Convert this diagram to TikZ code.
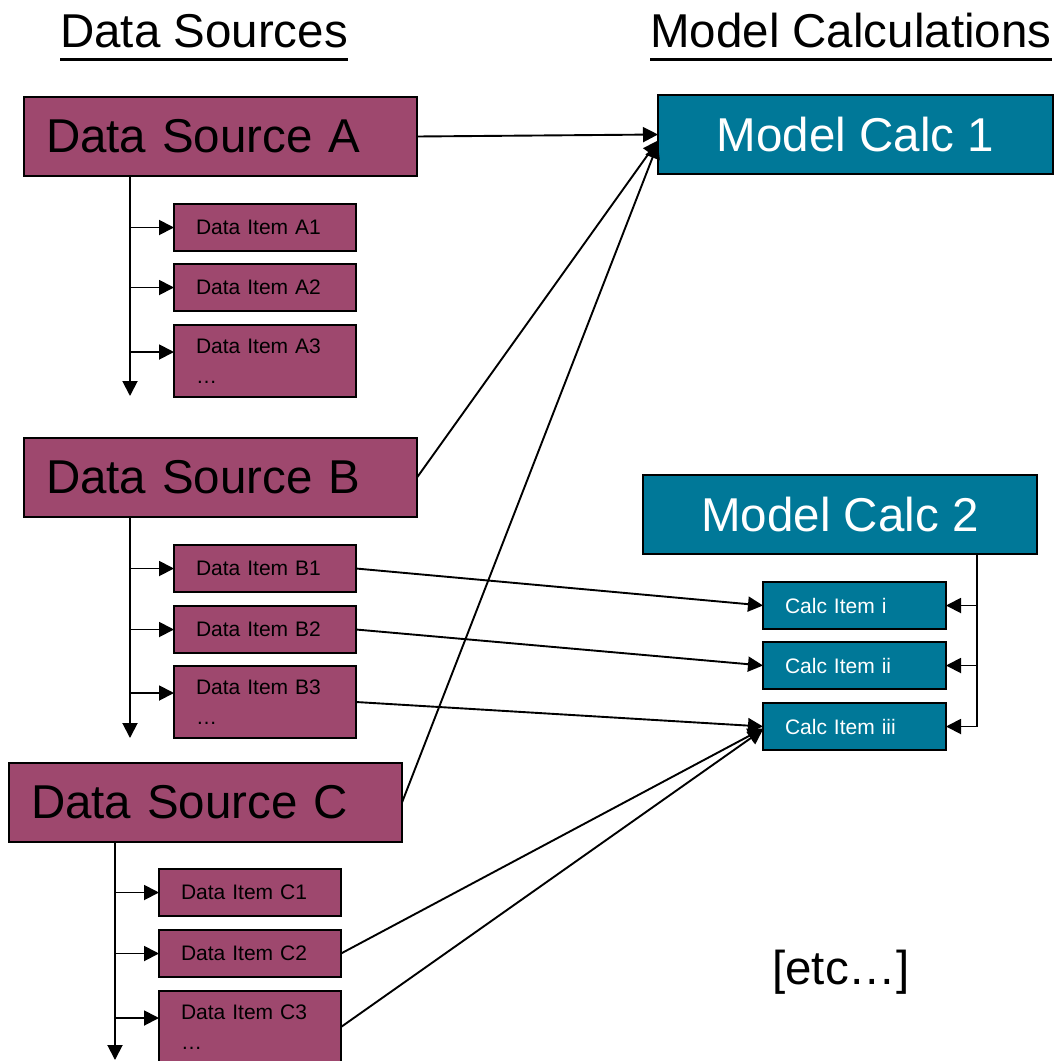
\documentclass[tikz,border=0pt]{standalone}
\usepackage{fontspec}
\setmainfont{Liberation Sans}
\usetikzlibrary{arrows.meta,calc}

\definecolor{srcpurple}{RGB}{158,72,110}
\definecolor{calcteal}{RGB}{0,120,152}

\tikzset{
  head/.style={inner sep=0pt, anchor=base west, font=\fontsize{47.5}{57}\selectfont},
  bigbox/.style={draw=black, line width=1.8pt, anchor=north west, outer sep=0pt,
    minimum height=79pt, font=\fontsize{47.5}{57}\selectfont},
  srcbox/.style={bigbox, fill=srcpurple, text width=349pt, inner xsep=22pt, align=left},
  calcbox/.style={bigbox, fill=calcteal, text=white, minimum width=395pt},
  itembox/.style={draw=black, line width=1.8pt, anchor=north west, outer sep=0pt,
    fill=srcpurple, text width=138pt, inner xsep=22pt, align=left,
    minimum height=47pt, font=\fontsize{21}{30}\selectfont},
  calcitem/.style={itembox, fill=calcteal, text=white, text width=139pt},
  tip/.style={line width=1.9pt, -{Triangle[length=15pt,width=15pt]}},
}

\begin{document}
\begin{tikzpicture}[x=1pt,y=-1pt]
   \useasboundingbox (0,0) rectangle (1055,1061);

   %% Ueberschriften
   \node[head] (hdSrc) at (60,47) {Data Sources};
   \node[head] (hdCalc) at (650,47) {Model Calculations};
   \draw[line width=3pt] ($(hdSrc.base west)+(0,12)$) -- ($(hdSrc.base east)+(0,12)$);
   \draw[line width=3pt] ($(hdCalc.base west)+(0,12)$) -- ($(hdCalc.base east)+(0,12)$);

   %% Quelle A
   \node[srcbox] (srcA) at (24,97) {Data Source A};
   \node[itembox] (itemA1) at (174,204) {Data Item A1};
   \node[itembox] (itemA2) at (174,264) {Data Item A2};
   \node[itembox, minimum height=72pt] (itemA3) at (174,325) {Data Item A3\\…};
   \coordinate (trunkA) at (130,176);
   \coordinate (trunkAend) at (130,396);
   \draw[tip] (trunkA) -- (trunkAend);
   \draw[tip] (trunkA |- itemA1.west) -- (itemA1.west);
   \draw[tip] (trunkA |- itemA2.west) -- (itemA2.west);
   \draw[tip] (trunkA |- {$(itemA3.north west)+(0,27)$}) -- ($(itemA3.north west)+(0,27)$);

   %% Quelle B
   \node[srcbox] (srcB) at (24,438) {Data Source B};
   \node[itembox] (itemB1) at (174,545) {Data Item B1};
   \node[itembox] (itemB2) at (174,606) {Data Item B2};
   \node[itembox, minimum height=72pt] (itemB3) at (174,666) {Data Item B3\\…};
   \coordinate (trunkB) at (130,517);
   \coordinate (trunkBend) at (130,738);
   \draw[tip] (trunkB) -- (trunkBend);
   \draw[tip] (trunkB |- itemB1.west) -- (itemB1.west);
   \draw[tip] (trunkB |- itemB2.west) -- (itemB2.west);
   \draw[tip] (trunkB |- {$(itemB3.north west)+(0,27)$}) -- ($(itemB3.north west)+(0,27)$);

   %% Quelle C
   \node[srcbox] (srcC) at (9,763) {Data Source C};
   \node[itembox] (itemC1) at (159,869) {Data Item C1};
   \node[itembox] (itemC2) at (159,930) {Data Item C2};
   \node[itembox, minimum height=72pt] (itemC3) at (159,991) {Data Item C3\\…};
   \coordinate (trunkC) at (115,842);
   \coordinate (trunkCend) at (115,1060);
   \draw[tip] (trunkC) -- (trunkCend);
   \draw[tip] (trunkC |- itemC1.west) -- (itemC1.west);
   \draw[tip] (trunkC |- itemC2.west) -- (itemC2.west);
   \draw[tip] (trunkC |- {$(itemC3.north west)+(0,27)$}) -- ($(itemC3.north west)+(0,27)$);

   %% Modell
   \node[calcbox] (calc1) at (658,95) {Model Calc 1};
   \node[calcbox, minimum width=394pt] (calc2) at (643,475) {Model Calc 2};
   \node[calcitem] (ci) at (763,582) {Calc Item i};
   \node[calcitem] (cii) at (763,642) {Calc Item ii};
   \node[calcitem] (ciii) at (763,703) {Calc Item iii};
   \coordinate (trunkM) at (977,554);
   \draw[tip] (trunkM) |- (ciii.east);
   \draw[tip] (trunkM |- ci.east) -- (ci.east);
   \draw[tip] (trunkM |- cii.east) -- (cii.east);

   %% Verbindungen
   \draw[tip] (srcA.east) -- (calc1.west);
   \draw[tip] (srcB.east) -- ($(calc1.west)+(0,6)$);
   \draw[tip] (srcC.east) -- ($(calc1.west)+(0,9)$);
   \draw[tip] (itemB1.east) -- (ci.west);
   \draw[tip] (itemB2.east) -- (cii.west);
   \draw[tip] (itemB3.east) -- (ciii.west);
   \draw[tip] (itemC2.east) -- ($(ciii.west)+(0,2)$);
   \draw[tip] (itemC3.east) -- ($(ciii.west)+(0,3)$);

   \node[head] (etc) at (772,984) {[etc…]};
\end{tikzpicture}
\end{document}
